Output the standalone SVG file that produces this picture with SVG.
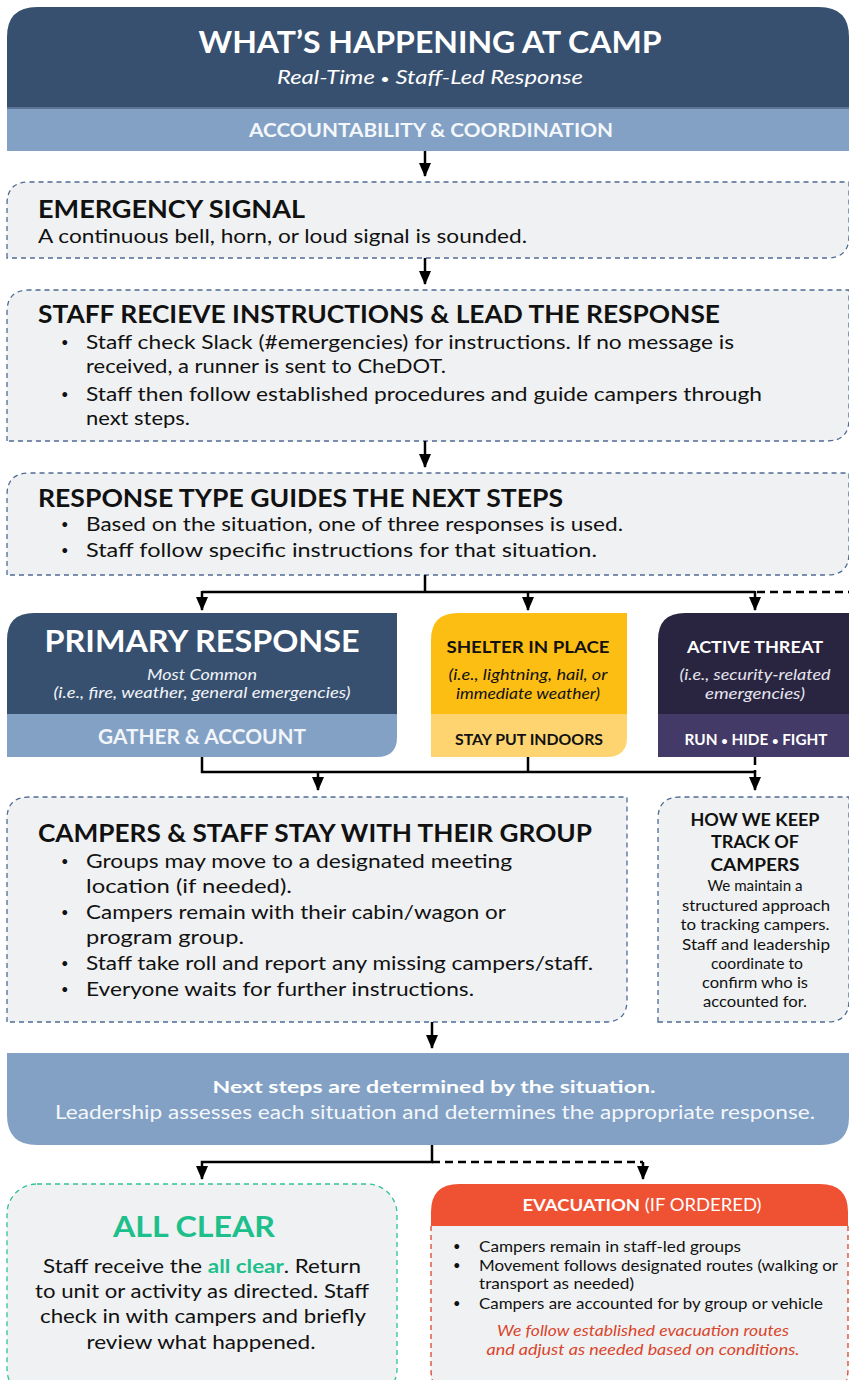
<svg xmlns="http://www.w3.org/2000/svg" width="849" height="1380" viewBox="0 0 849 1380">
<defs>
<marker id="ah" viewBox="0 0 14 12" refX="13" refY="6" markerWidth="14" markerHeight="12" markerUnits="userSpaceOnUse" orient="auto">
<path d="M0,0 L14,6 L0,12 Z" fill="#000"/>
</marker>
<style>
text{font-family:Lato,"Noto Sans","Liberation Sans",sans-serif}
.box{fill:#f0f1f3;stroke:#4f6b92;stroke-width:1.3;stroke-dasharray:5 4}
.h{font-weight:700;font-size:24px;fill:#111}
.b{font-size:18.5px;fill:#111}
.bu{font-size:13px;fill:#111}
.it{font-style:italic}
.bd{font-weight:700}
.c{text-anchor:middle}
.ln{fill:none;stroke:#000;stroke-width:2.5}
.dl{fill:none;stroke:#000;stroke-width:2.5;stroke-dasharray:8 5}
</style>
</defs>
<rect width="849" height="1380" fill="#fff"/>

<g id="header">
<path d="M7,108 V37 Q7,7 37,7 H819 Q849,7 849,37 V108 Z" fill="#37506f"/>
<rect x="7" y="108" width="842" height="43" fill="#82a1c4"/>
<rect x="7" y="107" width="842" height="2" fill="#5d7696"/>
<text x="430" y="53" class="c bd" font-size="30" fill="#fff" textLength="463" lengthAdjust="spacingAndGlyphs">WHAT’S HAPPENING AT CAMP</text>
<text x="430" y="84" class="c it" font-size="19" fill="#fff" textLength="306" lengthAdjust="spacingAndGlyphs">Real-Time <tspan font-size="13">•</tspan> Staff-Led Response</text>
<text x="431" y="137" class="c bd" font-size="19" fill="#f4f7fb" textLength="364" lengthAdjust="spacingAndGlyphs">ACCOUNTABILITY &amp; COORDINATION</text>
</g>

<g id="emergency-signal">
<path class="box" d="M7,258 V204 Q7,182 29,182 H849 V236 Q849,258 827,258 Z"/>
<text x="38" y="218" class="h" textLength="267" lengthAdjust="spacingAndGlyphs">EMERGENCY SIGNAL</text>
<text x="38" y="243" class="b" textLength="489" lengthAdjust="spacingAndGlyphs">A continuous bell, horn, or loud signal is sounded.</text>
</g>

<g id="staff-instructions">
<path class="box" d="M7,441 V312 Q7,290 29,290 H849 V419 Q849,441 827,441 Z"/>
<text x="38" y="323" class="h" textLength="682" lengthAdjust="spacingAndGlyphs">STAFF RECIEVE INSTRUCTIONS &amp; LEAD THE RESPONSE</text>
<text x="61" y="347" class="bu">•</text>
<text x="86" y="349" class="b" textLength="648" lengthAdjust="spacingAndGlyphs">Staff check Slack (#emergencies) for instructions. If no message is</text>
<text x="86" y="373" class="b" textLength="360" lengthAdjust="spacingAndGlyphs">received, a runner is sent to CheDOT.</text>
<text x="61" y="399" class="bu">•</text>
<text x="86" y="401" class="b" textLength="676" lengthAdjust="spacingAndGlyphs">Staff then follow established procedures and guide campers through</text>
<text x="86" y="425" class="b" textLength="104" lengthAdjust="spacingAndGlyphs">next steps.</text>
</g>

<g id="response-type">
<path class="box" d="M7,575 V495 Q7,473 29,473 H849 V553 Q849,575 827,575 Z"/>
<text x="38" y="507" class="h" textLength="525" lengthAdjust="spacingAndGlyphs">RESPONSE TYPE GUIDES THE NEXT STEPS</text>
<text x="61" y="529" class="bu">•</text>
<text x="86" y="531" class="b" textLength="537" lengthAdjust="spacingAndGlyphs">Based on the situation, one of three responses is used.</text>
<text x="61" y="555" class="bu">•</text>
<text x="86" y="557" class="b" textLength="511" lengthAdjust="spacingAndGlyphs">Staff follow specific instructions for that situation.</text>
</g>

<g id="primary-response">
<path d="M7,714 V640 Q7,613 34,613 H397 V714 Z" fill="#37506f"/>
<path d="M7,714 H397 V737 Q397,757 377,757 H7 Z" fill="#82a1c4"/>
<text x="202" y="652" class="c bd" font-size="31" fill="#fff" textLength="315" lengthAdjust="spacingAndGlyphs">PRIMARY RESPONSE</text>
<text x="202" y="680" class="c it" font-size="15.5" fill="#f2f4f8" textLength="110" lengthAdjust="spacingAndGlyphs">Most Common</text>
<text x="202" y="698" class="c it" font-size="15.5" fill="#f2f4f8" textLength="297" lengthAdjust="spacingAndGlyphs">(i.e., fire, weather, general emergencies)</text>
<text x="202" y="744" class="c bd" font-size="20" fill="#f2f5fa" textLength="208" lengthAdjust="spacingAndGlyphs">GATHER &amp; ACCOUNT</text>
</g>

<g id="shelter-in-place">
<path d="M431,714 V640 Q431,613 458,613 H627 V714 Z" fill="#fdbe14"/>
<path d="M431,714 H627 V737 Q627,757 607,757 H431 Z" fill="#fdd470"/>
<text x="528" y="653" class="c bd" font-size="17" fill="#111" textLength="163" lengthAdjust="spacingAndGlyphs">SHELTER IN PLACE</text>
<text x="528" y="680" class="c it" font-size="16" fill="#111" textLength="159" lengthAdjust="spacingAndGlyphs">(i.e., lightning, hail, or</text>
<text x="528" y="699" class="c it" font-size="16" fill="#111" textLength="144" lengthAdjust="spacingAndGlyphs">immediate weather)</text>
<text x="529" y="745" class="c bd" font-size="15" fill="#111" textLength="148" lengthAdjust="spacingAndGlyphs">STAY PUT INDOORS</text>
</g>

<g id="active-threat">
<path d="M658,714 V640 Q658,613 685,613 H849 V714 Z" fill="#29243f"/>
<path d="M658,714 H849 V757 H658 Z" fill="#443a68"/>
<text x="755" y="653" class="c bd" font-size="17" fill="#fff" textLength="136" lengthAdjust="spacingAndGlyphs">ACTIVE THREAT</text>
<text x="755" y="680" class="c it" font-size="16" fill="#e6e4ee" textLength="151" lengthAdjust="spacingAndGlyphs">(i.e., security-related</text>
<text x="755" y="699" class="c it" font-size="16" fill="#e6e4ee" textLength="100" lengthAdjust="spacingAndGlyphs">emergencies)</text>
<text x="756" y="745" class="c bd" font-size="15" fill="#fff" textLength="143" lengthAdjust="spacingAndGlyphs">RUN <tspan font-size="11">•</tspan> HIDE <tspan font-size="11">•</tspan> FIGHT</text>
</g>

<g id="stay-with-group">
<path class="box" d="M7,1022 V819 Q7,797 29,797 H627 V1000 Q627,1022 605,1022 Z"/>
<text x="38" y="842" class="h" textLength="554" lengthAdjust="spacingAndGlyphs">CAMPERS &amp; STAFF STAY WITH THEIR GROUP</text>
<text x="61" y="866" class="bu">•</text>
<text x="86" y="868" class="b" textLength="426" lengthAdjust="spacingAndGlyphs">Groups may move to a designated meeting</text>
<text x="86" y="893" class="b" textLength="206" lengthAdjust="spacingAndGlyphs">location (if needed).</text>
<text x="61" y="917" class="bu">•</text>
<text x="86" y="919" class="b" textLength="420" lengthAdjust="spacingAndGlyphs">Campers remain with their cabin/wagon or</text>
<text x="86" y="944" class="b" textLength="158" lengthAdjust="spacingAndGlyphs">program group.</text>
<text x="61" y="968" class="bu">•</text>
<text x="86" y="970" class="b" textLength="507" lengthAdjust="spacingAndGlyphs">Staff take roll and report any missing campers/staff.</text>
<text x="61" y="994" class="bu">•</text>
<text x="86" y="996" class="b" textLength="388" lengthAdjust="spacingAndGlyphs">Everyone waits for further instructions.</text>
</g>

<g id="keep-track">
<path class="box" d="M658,1022 V819 Q658,797 680,797 H849 V1000 Q849,1022 827,1022 Z"/>
<text x="755" y="826" class="c bd" font-size="16.5" fill="#111" textLength="129" lengthAdjust="spacingAndGlyphs">HOW WE KEEP</text>
<text x="755" y="848" class="c bd" font-size="16.5" fill="#111" textLength="88" lengthAdjust="spacingAndGlyphs">TRACK OF</text>
<text x="755" y="871" class="c bd" font-size="16.5" fill="#111" textLength="89" lengthAdjust="spacingAndGlyphs">CAMPERS</text>
<text x="755" y="891" class="c" font-size="15" fill="#111" textLength="95" lengthAdjust="spacingAndGlyphs">We maintain a</text>
<text x="756" y="911" class="c" font-size="15" fill="#111" textLength="148" lengthAdjust="spacingAndGlyphs">structured approach</text>
<text x="755" y="930" class="c" font-size="15" fill="#111" textLength="149" lengthAdjust="spacingAndGlyphs">to tracking campers.</text>
<text x="756" y="950" class="c" font-size="15" fill="#111" textLength="148" lengthAdjust="spacingAndGlyphs">Staff and leadership</text>
<text x="757" y="969" class="c" font-size="15" fill="#111" textLength="92" lengthAdjust="spacingAndGlyphs">coordinate to</text>
<text x="755" y="988" class="c" font-size="15" fill="#111" textLength="106" lengthAdjust="spacingAndGlyphs">confirm who is</text>
<text x="755" y="1007" class="c" font-size="15" fill="#111" textLength="104" lengthAdjust="spacingAndGlyphs">accounted for.</text>
</g>

<g id="next-steps">
<path d="M7,1053 H849 V1117 Q849,1145 821,1145 H37 Q7,1145 7,1115 Z" fill="#82a1c4"/>
<text x="434" y="1093" class="c bd" font-size="17.5" fill="#fff" textLength="443" lengthAdjust="spacingAndGlyphs">Next steps are determined by the situation.</text>
<text x="435" y="1119" class="c" font-size="18.5" fill="#f4f7fb" textLength="760" lengthAdjust="spacingAndGlyphs">Leadership assesses each situation and determines the appropriate response.</text>
</g>

<g id="all-clear">
<rect x="7" y="1184" width="390" height="215" rx="30" fill="#f0f1f3" stroke="#2fc494" stroke-width="1.3" stroke-dasharray="5 4"/>
<text x="194" y="1237" class="c bd" font-size="29" fill="#1dbf8b" textLength="162" lengthAdjust="spacingAndGlyphs">ALL CLEAR</text>
<text x="202" y="1273" class="c" font-size="19.5" fill="#111" textLength="318" lengthAdjust="spacingAndGlyphs">Staff receive the <tspan fill="#1dbf8b" font-weight="700">all clear</tspan>. Return</text>
<text x="202" y="1298" class="c" font-size="19.5" fill="#111" textLength="334" lengthAdjust="spacingAndGlyphs">to unit or activity as directed. Staff</text>
<text x="203" y="1323" class="c" font-size="19.5" fill="#111" textLength="326" lengthAdjust="spacingAndGlyphs">check in with campers and briefly</text>
<text x="201" y="1349" class="c" font-size="19.5" fill="#111" textLength="229" lengthAdjust="spacingAndGlyphs">review what happened.</text>
</g>

<g id="evacuation">
<path d="M431,1226 V1399 H848 V1226 Z" fill="#f0f1f3"/>
<path d="M431,1226 V1369 Q431,1399 461,1399 M848,1226 V1369 Q848,1399 818,1399" fill="none" stroke="#d9452b" stroke-width="1.3" stroke-dasharray="5 4"/>
<path d="M431,1226 V1212 Q431,1184 459,1184 H820 Q848,1184 848,1212 V1226 Z" fill="#ef5232"/>
<text x="642" y="1211" font-size="17" fill="#fff" class="c" textLength="239" lengthAdjust="spacingAndGlyphs"><tspan font-weight="700">EVACUATION</tspan> (IF ORDERED)</text>
<text x="453" y="1251" class="bu" font-size="11">•</text>
<text x="479" y="1252" font-size="15" fill="#111" textLength="262" lengthAdjust="spacingAndGlyphs">Campers remain in staff-led groups</text>
<text x="453" y="1270" class="bu" font-size="11">•</text>
<text x="479" y="1271" font-size="15" fill="#111" textLength="359" lengthAdjust="spacingAndGlyphs">Movement follows designated routes (walking or</text>
<text x="479" y="1289" font-size="15" fill="#111" textLength="155" lengthAdjust="spacingAndGlyphs">transport as needed)</text>
<text x="453" y="1308" class="bu" font-size="11">•</text>
<text x="479" y="1309" font-size="15" fill="#111" textLength="344" lengthAdjust="spacingAndGlyphs">Campers are accounted for by group or vehicle</text>
<text x="643" y="1336" class="c it" font-size="15.5" fill="#d9452b" textLength="292" lengthAdjust="spacingAndGlyphs">We follow established evacuation routes</text>
<text x="643" y="1355" class="c it" font-size="15.5" fill="#d9452b" textLength="313" lengthAdjust="spacingAndGlyphs">and adjust as needed based on conditions.</text>
</g>

<g id="connectors">
<path class="ln" d="M425,151 V176" marker-end="url(#ah)"/>
<path class="ln" d="M425,258 V284" marker-end="url(#ah)"/>
<path class="ln" d="M425,441 V467" marker-end="url(#ah)"/>
<path class="ln" d="M425,575 V592 M202,592 H755"/>
<path class="ln" d="M202,591 V610" marker-end="url(#ah)"/>
<path class="ln" d="M528,591 V610" marker-end="url(#ah)"/>
<path class="ln" d="M755,591 V610" marker-end="url(#ah)"/>
<path class="dl" d="M757,592 H849"/>
<path class="ln" d="M202,757 V772 H755 M528,757 V772"/>
<path class="dl" d="M755,757 V772"/>
<path class="ln" d="M318,771 V790" marker-end="url(#ah)"/>
<path class="ln" d="M755,771 V790" marker-end="url(#ah)"/>
<path class="ln" d="M432,1022 V1048" marker-end="url(#ah)"/>
<path class="ln" d="M432,1145 V1162 H202 V1179" marker-end="url(#ah)"/>
<path class="dl" d="M432,1162 H643"/>
<path class="ln" d="M643,1162 V1179" marker-end="url(#ah)"/>
</g>
</svg>
